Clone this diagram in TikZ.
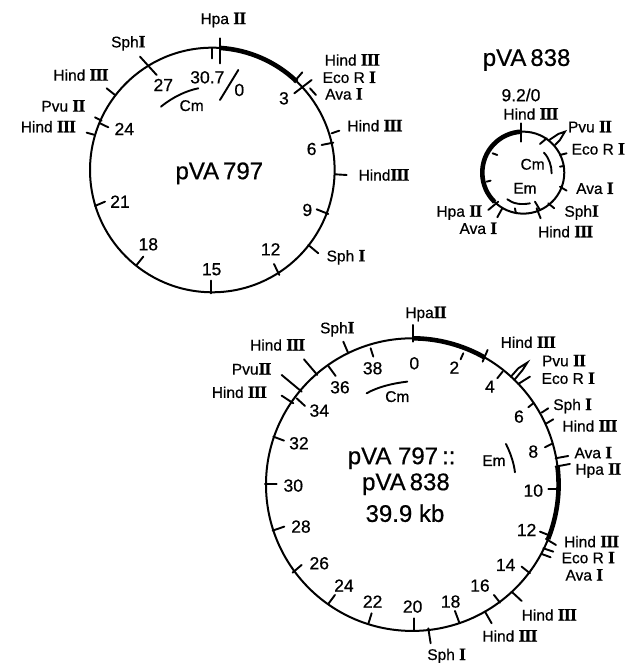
\documentclass[tikz,border=0pt]{standalone}
\usepackage{fontspec}
\setmainfont[FakeBold=0.6]{Liberation Sans}
\newfontfamily\romfont[LetterSpace=-4,FakeBold=1,Scale=1.12]{Liberation Serif Bold}
\newcommand{\rn}[1]{{\romfont #1}}
\tikzset{
  ring/.style={draw=black,line width=2pt,fill=none},
  tick/.style={draw=black,line width=1.9pt,line cap=round},
  thick arc/.style={draw=black,line width=4.6pt},
  gene/.style={draw=black,line width=1.9pt,line cap=round},
  lab/.style={inner sep=0pt,font=\fontsize{15.5}{15.5}\selectfont},
  num/.style={inner sep=0pt,font=\fontsize{17.5}{17.5}\selectfont},
  big/.style={inner sep=0pt,font=\fontsize{24}{24}\selectfont},
  zoomA/.style={x=0.3333pt,y=-0.3333pt},
}
\begin{document}
\begin{tikzpicture}[x=1pt,y=-1pt]
\useasboundingbox[fill=white] (0,0) rectangle (630,663);
% ---------- pVA797
\begin{scope}[zoomA]
\coordinate (ca) at (637,510);
\draw[ring] (ca) circle[radius=122.3pt];
\draw[thick arc] (ca) ++(86.4:122.3pt) arc[start angle=86.4,end angle=46.3,radius=122.3pt];
\foreach \a/\b/\c/\d in {637/145/637/175,660/115/660/190,883/245/907/217,883/280/935/240,930/265/948/285,
 995/400/1018/392,965/435/1000/428,1005/523/1040/525,950/628/985/642,925/735/955/760,822/792/838/825,
 634/842/634/880,410/795/430/770,285/618/315/605,260/398/285/405,285/352/305/362,300/370/325/382,
 320/265/345/285,420/170/470/225}
  \draw[tick] (\a,\b) -- (\c,\d);
\draw[gene] (483,320) .. controls (520,290) and (560,272) .. (595,265);
\draw[gene] (660,300) -- (715,210);
\node[lab] (a1) at (670,60) {Hpa \rn{II}};
\node[lab] (a2) at (385,130) {Sph\rn{I}};
\node[lab] (a3) at (243,225) {Hind \rn{III}};
\node[lab] (a4) at (190,318) {Pvu \rn{II}};
\node[lab] (a5) at (145,380) {Hind \rn{III}};
\node[lab] (a6) at (1057,180) {Hind \rn{III}};
\node[lab] (a7) at (1048,232) {Eco R \rn{I}};
\node[lab] (a8) at (1032,282) {Ava \rn{I}};
\node[lab] (a9) at (1125,377) {Hind \rn{III}};
\node[lab] (a10) at (1152,525) {Hind\rn{III}};
\node[lab] (a11) at (1038,772) {Sph \rn{I}};
\node[lab] (a12) at (575,317) {Cm};
\node[num] (b1) at (490,255) {27};
\node[num] (b2) at (622,232) {30.7};
\node[num] (b3) at (718,270) {0};
\node[num] (b4) at (373,387) {24};
\node[num] (b5) at (852,295) {3};
\node[num] (b6) at (935,447) {6};
\node[num] (b7) at (922,630) {9};
\node[num] (b8) at (360,605) {21};
\node[num] (b9) at (445,733) {18};
\node[num] (b10) at (812,748) {12};
\node[num] (b11) at (635,808) {15};
\node[big] (a13) at (658,520) {pVA\,797};
\end{scope}
% ---------- pVA838
\begin{scope}[zoomA,shift={(1260,120)}]
\coordinate (cb) at (310,398);
\draw[ring] (cb) circle[radius=41pt];
\draw[thick arc] (cb) ++(92:41pt) arc[start angle=92,end angle=225.7,radius=41pt];
\foreach \a/\b/\c/\d in {303/250/303/305,360/312/380/295,420/345/440/340,420/380/432/378,420/440/440/452,
 385/490/403/505,345/485/360/510,350/505/362/535,285/505/288/520,247/505/232/532,235/485/205/510,
 218/340/232/345,200/425/212/422}
  \draw[tick] (\a,\b) -- (\c,\d);
\draw[tick] (388,300) -- (415,282) -- (435,275) -- (420,300) -- (405,315);
\draw[gene] (372,338) .. controls (388,355) and (395,378) .. (395,400);
\draw[gene] (262,478) .. controls (280,492) and (305,495) .. (330,490);
\node[num] (c1) at (303,165) {9.2/0};
\node[lab] (c2) at (333,222) {Hind \rn{III}};
\node[lab] (c3) at (510,260) {Pvu \rn{II}};
\node[lab] (c4) at (535,327) {Eco R \rn{I}};
\node[lab] (c5) at (525,445) {Ava \rn{I}};
\node[lab] (c6) at (485,518) {Sph\rn{I}};
\node[lab] (c7) at (437,575) {Hind \rn{III}};
\node[lab] (c8) at (118,518) {Hpa \rn{II}};
\node[lab] (c9) at (175,565) {Ava \rn{I}};
\node[lab] (c10) at (338,373) {Cm};
\node[lab] (c11) at (315,445) {Em};
\node[big] (c12) at (320,60) {pVA\,838};
\end{scope}
% ---------- cointegrate
\begin{scope}[zoomA,shift={(570,900)}]
\coordinate (cc) at (667,554);
\draw[ring] (cc) circle[radius=146.3pt];
\draw[thick arc] (cc) ++(90:146.3pt) arc[start angle=90,end angle=60.5,radius=146.3pt];
\draw[thick arc] (cc) ++(7.1:146.3pt) arc[start angle=7.1,end angle=-21.8,radius=146.3pt];
\foreach \a/\b/\c/\d in {669/75/669/125,820/160/812/178,893/150/878/185,938/215/922/235,985/252/1020/230,
 1015/322/1030/310,1055/338/1075/325,1070/370/1090/358,1065/442/1085/432,1097/475/1135/468,1097/500/1140/492,
 1075/568/1108/568,1050/695/1075/705,1068/717/1098/735,1060/745/1090/755,1055/762/1082/772,995/800/1020/820,
 968/878/995/903,912/885/930/908,885/935/905/970,795/933/808/968,715/985/722/1030,672/955/672/990,
 545/940/535/972,435/885/415/912,335/795/308/818,248/692/283/680,225/552/260/552,250/410/282/422,
 275/287/310/310,320/295/345/318,275/225/335/275,342/178/382/225,415/198/437/228,460/125/475/160,542/145/550/170}
  \draw[tick] (\a,\b) -- (\c,\d);
\draw[tick] (963,230) -- (985,205) -- (1012,188) -- (998,210) -- (973,240);
\draw[gene] (530,280) .. controls (565,260) and (610,250) .. (652,245);
\draw[gene] (948,432) .. controls (962,460) and (972,490) .. (975,517);
\node[lab] (d1) at (708,42) {Hpa\rn{II}};
\node[lab] (d2) at (442,88) {Sph\rn{I}};
\node[lab] (d3) at (263,135) {Hind \rn{III}};
\node[lab] (d4) at (185,207) {Pvu\rn{II}};
\node[lab] (d5) at (148,277) {Hind \rn{III}};
\node[lab] (d6) at (1015,127) {Hind \rn{III}};
\node[lab] (d7) at (1122,182) {Pvu \rn{II}};
\node[lab] (d8) at (1135,235) {Eco R \rn{I}};
\node[lab] (d9) at (1148,318) {Sph \rn{I}};
\node[lab] (d10) at (1200,378) {Hind \rn{III}};
\node[lab] (d11) at (1210,458) {Ava \rn{I}};
\node[lab] (d12) at (1225,512) {Hpa \rn{II}};
\node[lab] (d13) at (1205,725) {Hind \rn{III}};
\node[lab] (d14) at (1195,773) {Eco R \rn{I}};
\node[lab] (d15) at (1183,825) {Ava \rn{I}};
\node[lab] (d16) at (1078,945) {Hind \rn{III}};
\node[lab] (d17) at (960,1008) {Hind \rn{III}};
\node[lab] (d18) at (770,1068) {Sph \rn{I}};
\node[lab] (d19) at (622,290) {Cm};
\node[lab] (d20) at (912,482) {Em};
\node[num] (e1) at (548,205) {38};
\node[num] (e2) at (673,190) {0};
\node[num] (e3) at (793,203) {2};
\node[num] (e4) at (900,260) {4};
\node[num] (e5) at (450,262) {36};
\node[num] (e6) at (388,332) {34};
\node[num] (e7) at (987,350) {6};
\node[num] (e8) at (327,430) {32};
\node[num] (e9) at (1030,455) {8};
\node[num] (e10) at (310,557) {30};
\node[num] (e11) at (1030,572) {10};
\node[num] (e12) at (333,680) {28};
\node[num] (e13) at (1010,690) {12};
\node[num] (e14) at (947,795) {14};
\node[num] (e15) at (388,790) {26};
\node[num] (e16) at (870,857) {16};
\node[num] (e17) at (462,857) {24};
\node[num] (e18) at (548,905) {22};
\node[num] (e19) at (668,920) {20};
\node[num] (e20) at (782,905) {18};
\node[big] (f1) at (635,475) {pVA 797\,::};
\node[big] (f2) at (648,553) {pVA\,838};
\node[big] (f3) at (645,640) {39.9 kb};
\end{scope}
\end{tikzpicture}
\end{document}
